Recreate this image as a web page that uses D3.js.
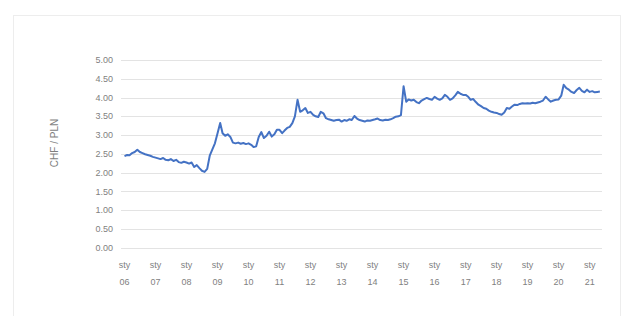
<!DOCTYPE html>
<html>
<head>
<meta charset="utf-8">
<script src="https://cdn.jsdelivr.net/npm/d3@7"></script>
<style>
  body { margin: 0; background: #fff; }
  text { font-family: 'Liberation Sans', 'DejaVu Sans', sans-serif; }
</style>
</head>
<body>
<script>
const width = 630;
const height = 316;

// monthly CHF/PLN, first value = Jan 2006
const startMonth = '2006-01-01';
const rates = [
  2.44, 2.47, 2.46, 2.52, 2.55, 2.61, 2.55, 2.52, 2.49, 2.47, 2.45, 2.42, // 2006
  2.40, 2.38, 2.36, 2.39, 2.34, 2.33, 2.36, 2.31, 2.34, 2.28, 2.26, 2.29, // 2007
  2.27, 2.24, 2.27, 2.15, 2.20, 2.12, 2.05, 2.02, 2.10, 2.45, 2.62, 2.78, // 2008
  3.05, 3.32, 3.05, 2.98, 3.02, 2.95, 2.80, 2.78, 2.80, 2.77, 2.79, 2.76, // 2009
  2.78, 2.74, 2.68, 2.70, 2.95, 3.08, 2.92, 2.98, 3.09, 2.96, 3.02, 3.14, // 2010
  3.14, 3.05, 3.12, 3.19, 3.22, 3.32, 3.50, 3.94, 3.62, 3.66, 3.72, 3.59, // 2011
  3.62, 3.54, 3.50, 3.48, 3.62, 3.58, 3.45, 3.42, 3.40, 3.38, 3.40, 3.41, // 2012
  3.36, 3.40, 3.38, 3.42, 3.40, 3.51, 3.44, 3.40, 3.38, 3.36, 3.39, 3.38, // 2013
  3.40, 3.42, 3.44, 3.40, 3.39, 3.41, 3.40, 3.42, 3.45, 3.49, 3.50, 3.53, // 2014
  4.30, 3.89, 3.95, 3.92, 3.94, 3.88, 3.85, 3.92, 3.96, 3.99, 3.96, 3.94, // 2015
  4.02, 3.97, 3.94, 3.98, 4.07, 4.02, 3.94, 3.98, 4.06, 4.15, 4.10, 4.07, // 2016
  4.07, 4.02, 3.94, 3.96, 3.88, 3.81, 3.77, 3.72, 3.70, 3.65, 3.62, 3.60, // 2017
  3.59, 3.56, 3.54, 3.60, 3.72, 3.70, 3.76, 3.81, 3.80, 3.83, 3.85, 3.84, // 2018
  3.85, 3.84, 3.86, 3.85, 3.87, 3.89, 3.92, 4.02, 3.95, 3.89, 3.92, 3.94, // 2019
  3.95, 4.05, 4.34, 4.25, 4.21, 4.15, 4.12, 4.20, 4.26, 4.18, 4.14, 4.21, // 2020
  4.15, 4.17, 4.14, 4.15, 4.16                                            // 2021
];
const yTicks = [0, 0.5, 1, 1.5, 2, 2.5, 3, 3.5, 4, 4.5, 5];
const yearLabels = ['06', '07', '08', '09', '10', '11', '12', '13', '14', '15', '16', '17', '18', '19', '20', '21'];
const monthName = 'sty';
const yTitle = 'CHF / PLN';

const start = new Date(startMonth);
const data = rates.map((v, i) => ({ date: d3.timeMonth.offset(start, i), value: v }));

const svg = d3.select('body')
  .append('svg')
  .attr('width', width)
  .attr('height', height);

// faint chart frame
svg.append('rect')
  .attr('x', 13.5)
  .attr('y', 15.5)
  .attr('width', 607)
  .attr('height', 310)
  .attr('fill', 'white')
  .attr('stroke', '#ededed');

const x = d3.scaleTime()
  .domain([new Date('2006-01-01'), new Date('2021-06-01')])
  .range([124.5, 602.5]);

const y = d3.scaleLinear()
  .domain([0, 5])
  .range([247.7, 60]);

// gridlines
svg.selectAll('.grid')
  .data(yTicks)
  .enter()
  .append('line')
  .attr('x1', 121)
  .attr('x2', 602)
  .attr('y1', d => Math.round(y(d)) + 0.5)
  .attr('y2', d => Math.round(y(d)) + 0.5)
  .attr('stroke', '#e3e3e3')
  .attr('stroke-width', 1);

// y labels
svg.selectAll('.ylab')
  .data(yTicks)
  .enter()
  .append('text')
  .attr('x', 113)
  .attr('y', d => y(d))
  .attr('dy', '0.35em')
  .attr('text-anchor', 'end')
  .attr('font-size', 9)
  .attr('fill', '#7f7f7f')
  .text(d => d3.format('.2f')(d));

// x labels
const years = yearLabels.map(s => new Date(2000 + (+s), 0, 1));
const xl = svg.selectAll('.xlab')
  .data(years)
  .enter()
  .append('text')
  .attr('text-anchor', 'middle')
  .attr('font-size', 9)
  .attr('fill', '#7f7f7f');

xl.append('tspan')
  .attr('x', d => x(d))
  .attr('y', 268)
  .text(monthName);

xl.append('tspan')
  .attr('x', d => x(d))
  .attr('y', 285)
  .text((d, i) => yearLabels[i]);

// axis title
svg.append('text')
  .attr('transform', 'translate(58,143) rotate(-90)')
  .attr('text-anchor', 'middle')
  .attr('font-size', 10)
  .attr('fill', '#7f7f7f')
  .text(yTitle);

// the line
const line = d3.line()
  .x(d => x(d.date))
  .y(d => y(d.value));

svg.append('path')
  .datum(data)
  .attr('d', line)
  .attr('fill', 'none')
  .attr('stroke', '#4472c4')
  .attr('stroke-width', 2)
  .attr('stroke-linejoin', 'round');
</script>
</body>
</html>
